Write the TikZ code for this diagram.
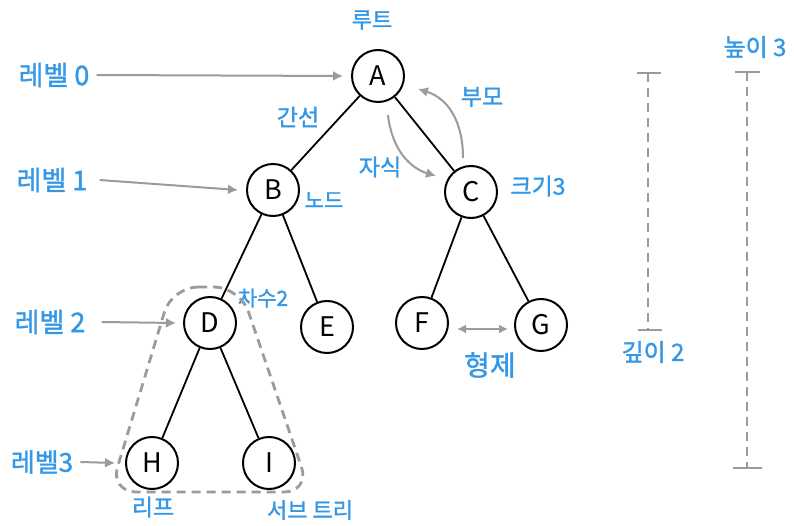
\documentclass[tikz,border=0pt]{standalone}
\usepackage{fontspec}
\setmainfont{Noto Sans CJK KR}
\newfontfamily\labfont[FakeBold=1.3]{Noto Sans CJK KR}
\usetikzlibrary{arrows.meta}
\definecolor{kblue}{RGB}{52,152,230}
\definecolor{kgray}{RGB}{155,155,155}
\begin{document}
\begin{tikzpicture}[x=1pt,y=-1pt,
  tnode/.style={circle,draw,line width=2pt,minimum size=52pt,inner sep=0pt,font=\fontsize{27}{27}\selectfont},
  lab/.style={text=kblue,font=\labfont\fontsize{22}{22}\selectfont,inner sep=0pt},
  garrow/.style={draw=kgray,line width=2pt,-{Latex[length=10pt,width=10pt]}},
  dgarrow/.style={draw=kgray,line width=2pt,{Latex[length=9pt,width=9pt]}-{Latex[length=9pt,width=9pt]}},
  tedge/.style={line width=1.8pt},
  gdash/.style={draw=kgray,line width=2.4pt,dash pattern=on 9pt off 6pt}]
\useasboundingbox (0,0) rectangle (794,526);
\fill[white] (0,0) rectangle (794,526);

% tree nodes
\node[tnode] (A) at (378,76) {A};
\node[tnode] (B) at (273,190) {B};
\node[tnode] (C) at (471,192) {C};
\node[tnode] (D) at (210,323) {D};
\node[tnode] (E) at (327,327) {E};
\node[tnode] (F) at (422,323) {F};
\node[tnode] (G) at (541,325) {G};
\node[tnode] (H) at (152,463) {H};
\node[tnode] (I) at (269,463) {I};

% edges
\draw[tedge] (A) -- (B);
\draw[tedge] (A) -- (C);
\draw[tedge] (B) -- (D);
\draw[tedge] (B) -- (E);
\draw[tedge] (C) -- (F);
\draw[tedge] (C) -- (G);
\draw[tedge] (D) -- (H);
\draw[tedge] (D) -- (I);

% labels
\node[lab] (root) at (372,20) {루트};
\node[lab,font=\labfont\fontsize{27}{27}\selectfont] (l0) at (54,75) {레벨 0};
\node[lab,font=\labfont\fontsize{27}{27}\selectfont] (l1) at (52,180) {레벨 1};
\node[lab,font=\labfont\fontsize{27}{27}\selectfont] (l2) at (50,322) {레벨 2};
\node[lab,font=\labfont\fontsize{26}{26}\selectfont] (l3) at (42,462) {레벨3};
\node[lab,font=\labfont\fontsize{23}{23}\selectfont] (edgelab) at (298,117) {간선};
\node[lab,font=\labfont\fontsize{21}{21}\selectfont] (nodelab) at (324,200) {노드};
\node[lab,font=\labfont\fontsize{23}{23}\selectfont] (child) at (380,167) {자식};
\node[lab,font=\labfont\fontsize{23}{23}\selectfont] (parent) at (482,97) {부모};
\node[lab,font=\labfont\fontsize{23}{23}\selectfont] (size) at (538,186) {크기3};
\node[lab,font=\labfont\fontsize{24}{24}\selectfont] (height) at (755,47) {높이 3};
\node[lab,font=\labfont\fontsize{24}{24}\selectfont] (depth) at (653,352) {깊이 2};
\node[lab,font=\labfont\fontsize{28}{28}\selectfont] (sib) at (490,365) {형제};
\node[lab,font=\labfont\fontsize{21}{21}\selectfont] (degree) at (263,298) {차수2};
\node[lab,font=\labfont\fontsize{23}{23}\selectfont] (leaf) at (153,507) {리프};
\node[lab] (subtree) at (310,510) {서브 트리};

% level arrows
\draw[garrow] ([xshift=7pt]l0.east) -- ([xshift=-8pt]A.west);
\draw[garrow] ([xshift=12pt]l1.east) -- ([xshift=-8pt]B.west);
\draw[garrow] ([xshift=16pt]l2.east) -- ([xshift=-7pt]D.west);
\draw[garrow] ([xshift=7pt]l3.east) -- ([xshift=-10pt]H.west);

% parent / child curved arrows
\coordinate (cs) at (388,115);
\coordinate (ce) at (436,176);
\draw[garrow] (cs) .. controls (392,150) and (410,168) .. (ce);
\coordinate (ps) at (463,158);
\coordinate (pe) at (418,89);
\draw[garrow] (ps) .. controls (463,120) and (447,98) .. (pe);

% sibling arrow
\draw[dgarrow] ([shift={(8,6)}]F.east) -- ([shift={(-6,4)}]G.west);

% subtree outline
\draw[gdash,line width=2.8pt,rounded corners=26pt] (172,287) -- (240,287) -- (310,492) -- (110,492) -- cycle;

% depth / height bars
\draw[gdash] (648,73) -- (648,330);
\draw[draw=kgray,line width=2.2pt] (637,73) -- (661,73);
\draw[draw=kgray,line width=2.2pt] (638,330) -- (662,330);
\draw[gdash] (747,72) -- (747,468);
\draw[draw=kgray,line width=2.2pt] (735,72) -- (760,72);
\draw[draw=kgray,line width=2.2pt] (733,468) -- (762,468);
\end{tikzpicture}
\end{document}
